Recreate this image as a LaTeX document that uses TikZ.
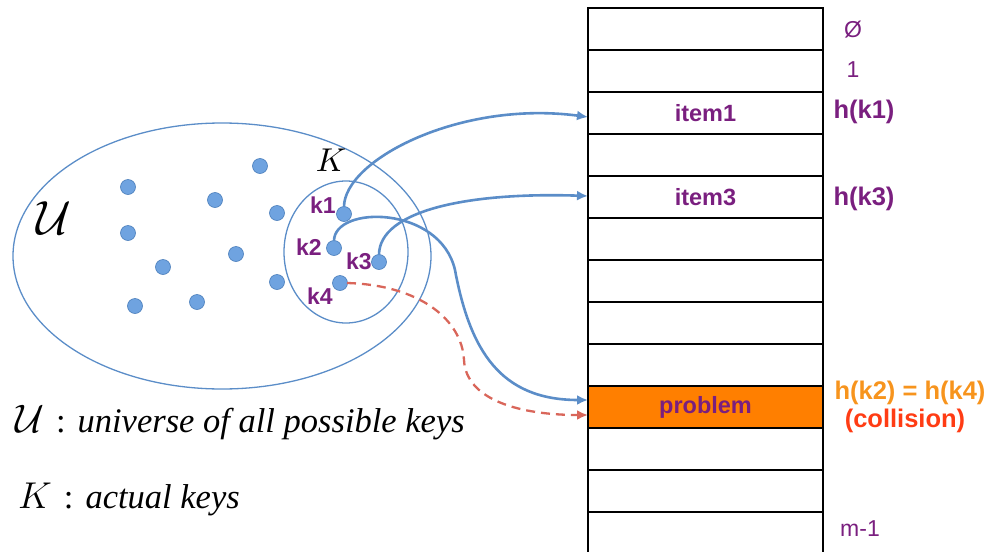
\documentclass[tikz,border=0pt]{standalone}
\usepackage{fontspec}
\usepackage{graphicx}
\setmainfont{Liberation Serif}
\setsansfont{Liberation Sans}
\usetikzlibrary{arrows.meta,shapes.geometric}
\definecolor{purp}{HTML}{7A1F7F}
\definecolor{lblue}{HTML}{5B8DC8}
\definecolor{dotfill}{HTML}{6FA3E0}
\definecolor{dotedge}{HTML}{4A7EBB}
\definecolor{dred}{HTML}{D9665A}
\definecolor{orlab}{HTML}{F7941D}
\definecolor{collred}{HTML}{FF3C14}
\definecolor{probfill}{HTML}{FF7F00}
\tikzset{
  cell/.style={draw=black, line width=1.3pt, minimum width=235pt, minimum height=42pt, inner sep=0pt, outer sep=0pt, font=\sffamily\bfseries\fontsize{23.5}{26}\selectfont, text=purp},
  dotk/.style={circle, fill=dotfill, draw=dotedge, line width=0.6pt, minimum size=15pt, inner sep=0pt},
  klab/.style={font=\sffamily\bfseries\fontsize{23}{26}\selectfont, text=purp, inner sep=0pt},
  idx/.style={font=\sffamily\fontsize{23}{26}\selectfont, text=purp, inner sep=0pt},
  hlab/.style={font=\sffamily\bfseries\fontsize{25.5}{28}\selectfont, text=purp, inner sep=0pt},
  conn/.style={draw=lblue, line width=2.6pt, -{Latex[length=11pt,width=10pt]}},
  dconn/.style={draw=dred, line width=2.3pt, dash pattern=on 9pt off 6pt, -{Latex[length=11pt,width=10pt]}},
  setline/.style={draw=lblue, line width=1.3pt, ellipse, inner sep=0pt},
  legend/.style={font=\itshape\fontsize{34.5}{38}\selectfont, anchor=base west, inner sep=0pt}
}
\begin{document}
\begin{tikzpicture}[x=1pt,y=-1pt]
\useasboundingbox (0,0) rectangle (989,552);
% sets
\node[setline, minimum width=418pt, minimum height=266pt] (U) at (222,256) {};
\node[setline, minimum width=124pt, minimum height=142pt] (K) at (346,252) {};
\node[inner sep=0pt] (Ulab) at (54,218) {\scalebox{4.8}{$\mathcal{U}$}};
\node[inner sep=0pt] (Klab) at (331,160) {\scalebox{3.3}{$K$}};
% dots
\foreach \x/\y [count=\i] in {260/166,128/187,215/200,277/213,128/233,236/254,163/267,277/282,135/306,197/302}
  \node[dotk] (d\i) at (\x,\y) {};
\node[dotk] (k1) at (344,214) {};
\node[dotk] (k2) at (334,248) {};
\node[dotk] (k3) at (379,262) {};
\node[dotk] (k4) at (340,283) {};
\node[klab] (k1l) at (323,205) {k1};
\node[klab] (k2l) at (309,247) {k2};
\node[klab] (k3l) at (359,261) {k3};
\node[klab] (k4l) at (320,296) {k4};
% table
\foreach \i in {0,...,12}
  \node[cell] (r\i) at (705.5,{29+42*\i}) {};
\node[cell, fill=probfill] (r9) at (705.5,407) {problem};
\node[font=\sffamily\bfseries\fontsize{23.5}{26}\selectfont, text=purp] (t1) at (r2) {item1};
\node[font=\sffamily\bfseries\fontsize{23.5}{26}\selectfont, text=purp] (t3) at (r4) {item3};
% index labels
\node[idx] (i0) at (853,30) {Ø};
\node[idx] (i1) at (853,70) {1};
\node[hlab] (h1) at (864,112) {h(k1)};
\node[hlab] (h3) at (864,199) {h(k3)};
\node[hlab, text=orlab] (h24) at (910,393) {h(k2) = h(k4)};
\node[hlab, text=collred] (coll) at (905,421) {(collision)};
\node[idx] (im) at (860,529) {m-1};
% connectors
\draw[conn] (k1.center) ++(0,-7) .. controls (344,160) and (460,100) .. ([yshift=-4pt]r2.west);
\draw[conn] (k3.center) ++(0,-7) .. controls (379,210) and (470,192) .. ([yshift=1pt]r4.west);
\draw[conn] (k2.center) ++(0,-7) .. controls (334,205) and (440,205) .. (455,270)
   .. controls (470,350) and (500,400) .. ([yshift=7pt]r9.west);
\draw[dconn] (k4.center) ++(7,0) .. controls (420,285) and (462,320) .. (464,360)
   .. controls (466,400) and (520,415) .. ([yshift=-8pt]r9.west);
% legend
\node[legend] (leg1) at (15,432) {\scalebox{1.6}{$\mathcal{U}$}\hspace{12pt}\upshape:\itshape\hspace{12pt}universe of all possible keys};
\node[legend] (leg2) at (18,508) {\scalebox{1.5}{$K$}\hspace{12pt}\upshape:\itshape\hspace{12pt}actual keys};
\end{tikzpicture}
\end{document}
